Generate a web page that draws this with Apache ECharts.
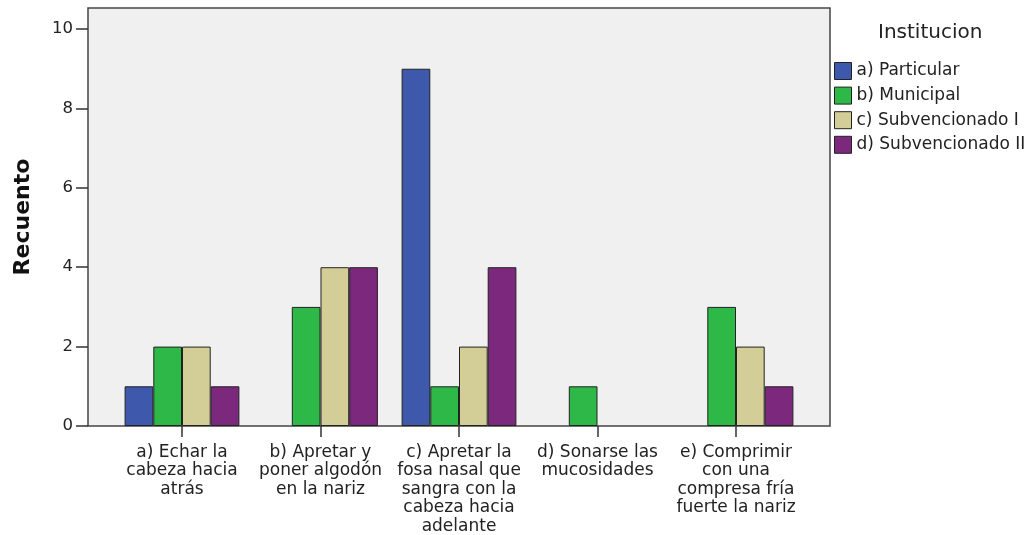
<!DOCTYPE html>
<html>
<head>
<meta charset="utf-8">
<script src="https://cdn.jsdelivr.net/npm/echarts@6/dist/echarts.min.js"></script>
<style>
html,body{margin:0;padding:0;background:#fff;}
#Chart{width:1034px;height:535px;}
</style>
</head>
<body>
<div id="Chart"></div>
<script>
// categorias y datos
var categorias=[
    "a) Echar la\ncabeza hacia\natrás",
    "b) Apretar y\nponer algodón\nen la nariz",
    "c) Apretar la\nfosa nasal que\nsangra con la\ncabeza hacia\nadelante",
    "d) Sonarse las\nmucosidades",
    "e) Comprimir\ncon una\ncompresa fría\nfuerte la nariz"
]
var nombresSerie=["a) Particular","b) Municipal","c) Subvencionado I","d) Subvencionado II"]
var particular=[1,null,9,null,null]
var municipal=[2,3,1,1,3]
var subvencionado1=[2,4,2,null,2]
var subvencionado2=[1,4,4,null,1]
var ticksY=[0,2,4,6,8,10]

var colores=['#3E58AC','#2EB848','#D3CE97','#7C287D']
var fuente='"DejaVu Sans", Arial, sans-serif'

function drawChar(){
    var myChart=echarts.init(document.getElementById('Chart'))
    var valores=[particular,municipal,subvencionado1,subvencionado2]
    var series=[]
    for(var i=0;i<nombresSerie.length;i++){
        series.push({
            name:nombresSerie[i],
            type:'bar',
            xAxisIndex:1,
            yAxisIndex:1,
            data:valores[i],
            barWidth:28.7,
            barGap:'0%',
            itemStyle:{color:colores[i],borderColor:'#222',borderWidth:1}
        })
    }
    var option={
        animation:false,
        textStyle:{fontFamily:fuente},
        title:[{
            text:'Institucion',
            left:878,
            top:23,
            padding:0,
            textStyle:{fontFamily:fuente,fontSize:20,fontWeight:'normal',color:'#222'}
        }],
        legend:{
            orient:'vertical',
            left:834,
            top:62,
            padding:0,
            icon:'rect',
            itemWidth:17,
            itemHeight:17,
            itemGap:6.6,
            data:nombresSerie,
            textStyle:{fontFamily:fuente,fontSize:17,lineHeight:17,color:'#222'},
            itemStyle:{borderColor:'#222',borderWidth:1}
        },
        grid:[
            {left:88,right:204,top:8,bottom:109,outerBoundsMode:'none',containLabel:false,show:true,backgroundColor:'#F0F0F0',borderColor:'#444',borderWidth:1.5},
            {left:112.75,right:228.75,top:8,bottom:109,outerBoundsMode:'none',containLabel:false}
        ],
        xAxis:[
            {type:'value',gridIndex:0,show:false,min:0,max:1},
            {
                type:'category',
                gridIndex:1,
                data:categorias,
                axisLine:{show:false},
                axisTick:{show:true,alignWithLabel:true,length:11,lineStyle:{color:'#333',width:1.5}},
                axisLabel:{interval:0,margin:17,fontFamily:fuente,fontSize:17,color:'#222',lineHeight:18.5,align:'center'}
            }
        ],
        yAxis:[
            {
                type:'value',
                gridIndex:0,
                min:0,
                max:10.53,
                interval:2,
                name:'Recuento',
                nameLocation:'middle',
                nameGap:54,
                nameTextStyle:{fontFamily:fuente,fontSize:22,fontWeight:'bold',color:'#111'},
                axisLine:{show:false},
                axisTick:{show:true,length:12,lineStyle:{color:'#333',width:1.5}},
                axisLabel:{showMaxLabel:false,margin:15,fontFamily:fuente,fontSize:16.5,color:'#222',
                    formatter:function(v){return ticksY.indexOf(v)>=0?String(v):''}},
                splitLine:{show:false}
            },
            {type:'value',gridIndex:1,show:false,min:0,max:10.53}
        ],
        series:series
    }
    myChart.setOption(option)
}
drawChar()
</script>
</body>
</html>
